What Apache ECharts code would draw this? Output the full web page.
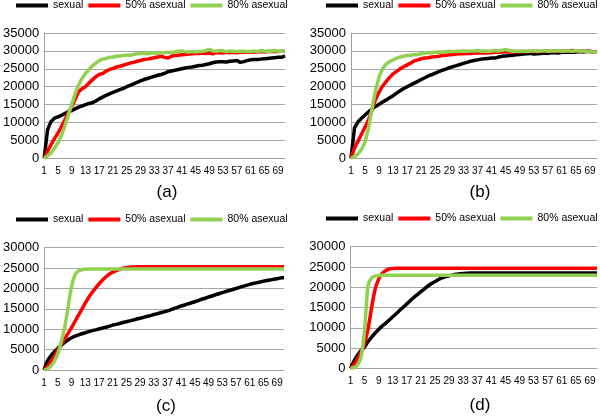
<!DOCTYPE html>
<html>
<head>
<meta charset="utf-8">
<script src="https://cdn.jsdelivr.net/npm/echarts@6/dist/echarts.min.js"></script>
<style>
html,body{margin:0;padding:0;background:#fff;}
#chart{width:600px;height:417px;}
</style>
</head>
<body>
<div id="chart"></div>
<script>
var categories = [1,2,3,4,5,6,7,8,9,10,11,12,13,14,15,16,17,18,19,20,21,22,23,24,25,26,27,28,29,30,31,32,33,34,35,36,37,38,39,40,41,42,43,44,45,46,47,48,49,50,51,52,53,54,55,56,57,58,59,60,61,62,63,64,65,66,67,68,69,70,71];
var seriesNames = ['sexual', '50% asexual', '80% asexual'];
var panelLabels = ['(a)', '(b)', '(c)', '(d)'];
var yMaxTicks = [35000, 35000, 30000, 30000];

// Panel (a)
var aSexual = [0,8000,10300,11200,11600,12000,12500,13000,13300,13800,14300,14600,15000,15300,15500,16000,16600,17100,17600,18000,18400,18800,19200,19500,20000,20400,20800,21200,21600,22000,22300,22600,22900,23200,23400,23700,24200,24400,24600,24800,25000,25200,25400,25500,25700,25900,26000,26200,26400,26700,26900,27000,27000,26900,27100,27200,27300,26800,27000,27300,27500,27600,27600,27700,27800,27900,28000,28100,28200,28200,28600];
var a50 = [0,2000,3800,5500,7000,8800,10700,12700,14400,16500,18600,19400,20000,21000,21900,22800,23400,23700,24300,24800,25100,25500,25700,26000,26300,26600,26800,27100,27300,27600,27700,27900,28100,28300,28500,28200,28000,28500,28700,28800,28900,29000,29100,29200,29300,29300,29400,29300,29400,29200,29500,29500,29400,29600,29500,29600,29500,29600,29700,29600,29600,29700,29700,29800,29700,29800,29800,29900,29800,29900,29900];
var a80 = [0,700,1500,2800,4300,6300,9000,12000,15000,18000,20500,22300,23700,24800,25800,26600,27300,27700,27900,28200,28300,28500,28600,28700,28800,28800,29000,29200,29300,29300,29200,29400,29400,29300,29500,29500,29600,29600,29700,29900,30000,29800,29700,29800,29700,29800,29900,30100,30400,30000,29900,30100,30000,29800,30000,29900,29800,29900,29900,29800,29800,30000,29800,30100,29900,30000,29900,30100,29900,29900,30000];

// Panel (b)
var bSexual = [0,8500,10200,11200,12100,13000,13800,14500,15100,15700,16300,16900,17500,18200,18900,19500,20000,20500,21000,21500,22000,22500,23000,23400,23800,24200,24600,24900,25300,25600,25900,26200,26500,26800,27100,27300,27500,27700,27800,27900,28000,28000,28300,28500,28600,28700,28800,28900,29000,29100,29200,29300,29100,29200,29300,29400,29300,29500,29500,29400,29600,29600,29700,29600,29700,29800,29700,29800,29800,29700,29600];
var b50 = [0,2900,4800,6800,8700,10800,13500,16500,18500,20200,21400,22600,23600,24300,25000,25600,26100,26600,27200,27500,27800,28000,28100,28300,28400,28500,28700,28800,28900,29000,29100,29200,29200,29300,29300,29400,29400,29500,29400,29500,29500,29600,29600,29700,29800,29700,29700,29800,29700,29800,29800,29900,29800,29900,29800,29900,29900,29900,30000,29900,30000,29900,30000,30100,30000,30000,29900,30000,29900,29800,29700];
var b80 = [0,500,1200,2500,4500,8500,14000,19000,22800,25000,26300,27000,27500,28000,28300,28500,28700,28800,29000,29000,29200,29400,29500,29500,29600,29700,29600,29800,29900,29800,29900,29900,30000,29900,30000,30000,30100,29900,30000,29900,30000,30100,30000,30200,30400,30100,29900,30000,29900,30000,29900,30000,30000,29900,30000,30100,29900,30000,30000,30100,29900,30000,30000,29900,30100,30000,29900,29900,29800,29700,29600];

// Panel (c)
var cSexual = [0,2300,3500,4500,5300,6100,6800,7400,7900,8300,8600,8900,9150,9400,9650,9850,10050,10300,10500,10750,11000,11200,11400,11650,11850,12050,12250,12500,12700,12900,13150,13350,13600,13800,14050,14250,14500,14800,15100,15400,15700,15950,16200,16500,16750,17050,17350,17600,17900,18150,18450,18700,19000,19250,19500,19750,20000,20250,20500,20750,21000,21200,21400,21600,21800,21950,22100,22250,22400,22550,22700];
var c50 = [0,900,2000,3300,4800,6300,7700,9000,10400,11900,13400,14900,16400,17800,19000,20100,21100,22000,22800,23500,24000,24400,24700,24950,25100,25200,25250,25300,25300,25300,25300,25300,25300,25300,25300,25300,25300,25300,25300,25300,25300,25300,25300,25300,25300,25300,25300,25300,25300,25300,25300,25300,25300,25300,25300,25300,25300,25300,25300,25300,25300,25300,25300,25300,25300,25300,25300,25300,25300,25300,25300];
var c80 = [0,300,1000,2200,4000,7000,10500,15500,20500,23300,24300,24600,24700,24750,24750,24750,24750,24750,24750,24750,24750,24750,24750,24750,24750,24750,24750,24750,24750,24750,24750,24750,24750,24750,24750,24750,24750,24750,24750,24750,24750,24750,24750,24750,24750,24750,24750,24750,24750,24750,24750,24750,24750,24750,24750,24750,24750,24750,24750,24750,24750,24750,24750,24750,24750,24750,24750,24750,24750,24750,24750];

// Panel (d)
var dSexual = [0,1800,3200,4400,5300,6600,7700,8700,9600,10400,11100,11900,12700,13500,14300,15100,15900,16700,17500,18200,18900,19600,20300,20900,21400,21900,22300,22600,22850,23050,23200,23300,23400,23450,23500,23500,23500,23500,23500,23500,23500,23500,23500,23500,23500,23500,23500,23500,23500,23500,23500,23500,23500,23500,23500,23500,23500,23500,23500,23500,23500,23500,23500,23500,23500,23500,23500,23500,23500,23500,23500];
var d50 = [0,900,2300,4000,6200,9800,15000,19500,22000,23400,24100,24500,24650,24700,24700,24700,24700,24700,24700,24700,24700,24700,24700,24700,24700,24700,24700,24700,24700,24700,24700,24700,24700,24700,24700,24700,24700,24700,24700,24700,24700,24700,24700,24700,24700,24700,24700,24700,24700,24700,24700,24700,24700,24700,24700,24700,24700,24700,24700,24700,24700,24700,24700,24700,24700,24700,24700,24700,24700,24700,24700];
var d80 = [0,200,800,2800,9500,20500,22300,22800,22900,22950,22950,22950,22950,22950,22950,22950,22950,22950,22950,22950,22950,22950,22950,22950,22950,22950,22950,22950,22950,22950,22950,22950,22950,22950,22950,22950,22950,22950,22950,22950,22950,22950,22950,22950,22950,22950,22950,22950,22950,22950,22950,22950,22950,22950,22950,22950,22950,22950,22950,22950,22950,22950,22950,22950,22950,22950,22950,22950,22950,22950,22950];

var panelData = [
  [aSexual, a50, a80],
  [bSexual, b50, b80],
  [cSexual, c50, c80],
  [dSexual, d50, d80]
];
var colors = ['#000000', '#ff0000', '#92d050'];
var FONT = 'Liberation Sans';

var grids = [
  {left: 41, top: 33, width: 244, height: 125.3},
  {left: 351, top: 33, width: 246, height: 125.3},
  {left: 41, top: 247.7, width: 243, height: 122.3},
  {left: 350.5, top: 246.7, width: 246.5, height: 121.6}
];
var legendPos = [
  {left: 16, top: 0},
  {left: 326, top: 0},
  {left: 16, top: 214},
  {left: 326, top: 213}
];
var labelPos = [[167, 192], [480, 192], [166, 406], [480, 405]];

var xAxes = [], yAxes = [], series = [], legends = [], graphics = [];
for (var p = 0; p < 4; p++) {
  xAxes.push({
    type: 'category', gridIndex: p, data: categories, boundaryGap: false,
    axisLine: {show: true, lineStyle: {color: '#a0a0a0', width: 1}},
    axisTick: {show: false},
    axisLabel: {interval: 3, fontSize: 10, fontFamily: FONT, color: '#000', margin: 8},
    splitLine: {show: false}
  });
  yAxes.push({
    type: 'value', gridIndex: p, min: 0, max: yMaxTicks[p], interval: 5000,
    axisLine: {show: true, lineStyle: {color: '#a0a0a0', width: 1}},
    axisTick: {show: false},
    axisLabel: {fontSize: 13, fontFamily: FONT, color: '#000', margin: 5,
                formatter: function (v) { return String(v); }},
    splitLine: {show: true, lineStyle: {color: '#a6a6a6', width: 1}}
  });
  for (var s = 0; s < 3; s++) {
    series.push({
      type: 'line', name: seriesNames[s], xAxisIndex: p, yAxisIndex: p,
      data: panelData[p][s], showSymbol: false, symbol: 'none',
      smooth: p >= 2 ? 0.3 : false,
      lineStyle: {color: colors[s], width: 3.5},
      itemStyle: {color: colors[s]},
      z: 2 + s
    });
  }
  legends.push({
    left: legendPos[p].left, top: legendPos[p].top, width: 300, padding: 0,
    orient: 'horizontal', icon: 'rect', itemWidth: 32, itemHeight: 4, itemGap: 5,
    data: seriesNames, selectedMode: false,
    textStyle: {fontSize: 10.5, fontFamily: FONT, color: '#000'}
  });
  graphics.push({
    type: 'text', x: labelPos[p][0], y: labelPos[p][1],
    style: {text: panelLabels[p], font: '17px "Liberation Sans"', fill: '#000',
            align: 'center', verticalAlign: 'middle', textAlign: 'center', textVerticalAlign: 'middle'}
  });
}

var chart = echarts.init(document.getElementById('chart'), null, {renderer: 'canvas'});
chart.setOption({
  animation: false,
  backgroundColor: '#fff',
  grid: grids,
  xAxis: xAxes,
  yAxis: yAxes,
  legend: legends,
  series: series,
  graphic: graphics
});
</script>
</body>
</html>
